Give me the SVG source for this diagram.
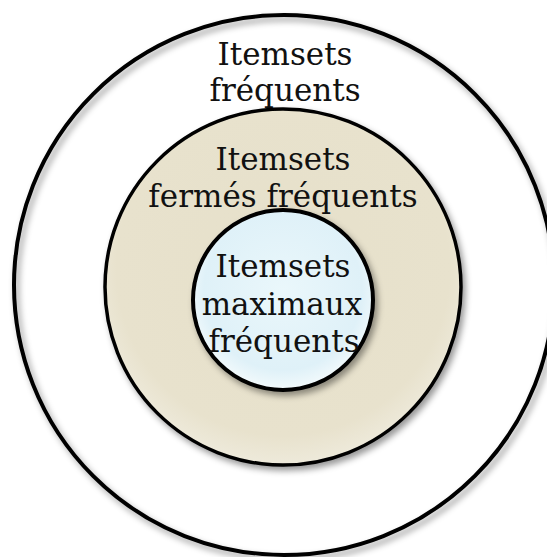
<svg xmlns="http://www.w3.org/2000/svg" width="547" height="557" viewBox="0 0 547 557">
  <defs>
    <!-- soft drop shadow shared by the three rings -->
    <filter id="shadow" x="-20%" y="-20%" width="140%" height="140%">
      <feDropShadow dx="3" dy="4" stdDeviation="3" flood-color="#000" flood-opacity="0.4"/>
    </filter>
    <radialGradient id="beige" cx="50%" cy="45%" r="55%">
      <stop offset="0" stop-color="#E6E0CA"/>
      <stop offset="0.85" stop-color="#E8E2CD"/>
      <stop offset="1" stop-color="#EEEADB"/>
    </radialGradient>
    <radialGradient id="ice" cx="50%" cy="45%" r="55%">
      <stop offset="0" stop-color="#EAF7FB"/>
      <stop offset="0.8" stop-color="#DFF1F8"/>
      <stop offset="1" stop-color="#F3FAFC"/>
    </radialGradient>
  </defs>
  <style>
    .ring { stroke: #000; filter: url(#shadow); }
    .label { font-family: "DejaVu Serif", "Liberation Serif", serif; font-size: 31px; fill: #111; text-anchor: middle; }
  </style>
  <rect width="547" height="557" fill="#fff"/>

  <!-- outer set: frequent itemsets -->
  <g id="frequent">
    <circle class="ring" cx="284" cy="285" r="270" fill="none" stroke-width="4"/>
    <text class="label" x="285" y="65">Itemsets</text>
    <text class="label" x="285" y="101">fréquents</text>
  </g>

  <!-- middle set: closed frequent itemsets -->
  <g id="closed">
    <circle class="ring" cx="283" cy="287" r="178" fill="url(#beige)" stroke-width="3.5"/>
    <text class="label" x="283" y="170">Itemsets</text>
    <text class="label" x="283" y="207">fermés fréquents</text>
  </g>

  <!-- inner set: maximal frequent itemsets -->
  <g id="maximal">
    <circle class="ring" cx="283" cy="300" r="90" fill="url(#ice)" stroke-width="4"/>
    <text class="label" x="283" y="277">Itemsets</text>
    <text class="label" x="282" y="315">maximaux</text>
    <text class="label" x="284" y="352">fréquents</text>
  </g>
</svg>
